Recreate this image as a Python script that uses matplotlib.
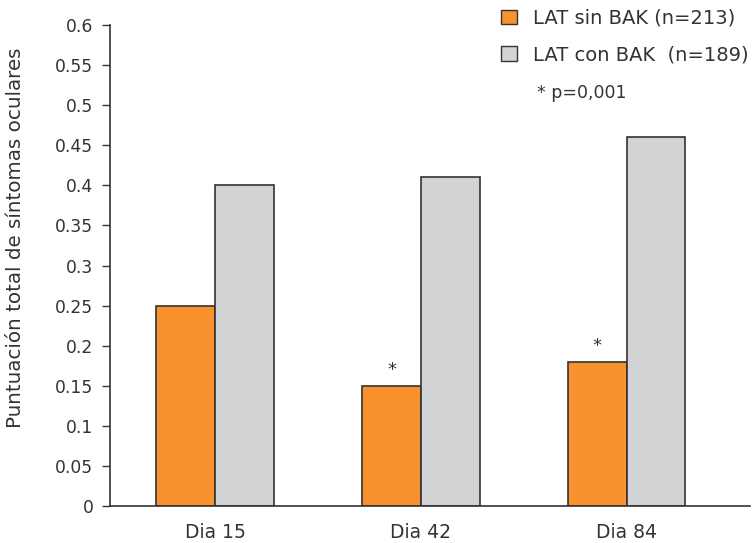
import numpy as np
import matplotlib.pyplot as plt
from matplotlib.patches import Patch

categories = ['Dia 15', 'Dia 42', 'Dia 84']
sin_bak = [0.25, 0.15, 0.18]
con_bak = [0.40, 0.41, 0.46]
signif = [False, True, True]
yticks = [0, 0.05, 0.1, 0.15, 0.2, 0.25, 0.3, 0.35, 0.4, 0.45, 0.5, 0.55, 0.6]

orange = '#f7922e'
gray = '#d2d3d5'
edge = '#333333'
txt = '#333333'

fig = plt.figure(figsize=(7.54, 5.43), dpi=100)
ax = fig.add_axes([0.146, 0.068, 0.849, 0.886])

x = np.arange(len(categories))
w = 0.285
ax.bar(x - w / 2, sin_bak, w, color=orange, edgecolor=edge, linewidth=1.2)
ax.bar(x + w / 2, con_bak, w, color=gray, edgecolor=edge, linewidth=1.2)

for i, s in enumerate(signif):
    if s:
        ax.text(x[i] - w / 2, sin_bak[i] + 0.008, '*', ha='center', va='bottom',
                fontsize=13, color=txt)

ax.set_xlim(-0.51, 2.6)
ax.set_ylim(0, 0.6)
ax.set_yticks(yticks)
ax.set_yticklabels([f'{t:g}' for t in yticks], fontsize=12.3, color=txt)
ax.set_xticks(x)
ax.set_xticklabels(categories, fontsize=13.5, color=txt)
ax.tick_params(axis='x', length=0, pad=12)
ax.tick_params(axis='y', length=6, width=1, color=txt, pad=6)
for sp in ['top', 'right']:
    ax.spines[sp].set_visible(False)
for sp in ['left', 'bottom']:
    ax.spines[sp].set_color(edge)
    ax.spines[sp].set_linewidth(1.2)
ax.spines['left'].set_bounds(0, 0.6)

ax.set_ylabel('Puntuación total de síntomas oculares', fontsize=14.3, color=txt)
ax.yaxis.set_label_coords(-0.133, 0.557)

handles = [Patch(facecolor=orange, edgecolor=edge, label='LAT sin BAK (n=213)'),
           Patch(facecolor=gray, edgecolor=edge, label='LAT con BAK  (n=189)')]
leg = ax.legend(handles=handles, loc='upper right', bbox_to_anchor=(1.018, 1.062),
                frameon=False, fontsize=14, handlelength=0.8, handleheight=0.8,
                handletextpad=0.8, labelspacing=0.9, borderaxespad=0.3)
for t in leg.get_texts():
    t.set_color(txt)
fig.text(0.712, 0.829, '* p=0,001', fontsize=12.5, color=txt, va='center')

fig.savefig('out.png', dpi=100)
